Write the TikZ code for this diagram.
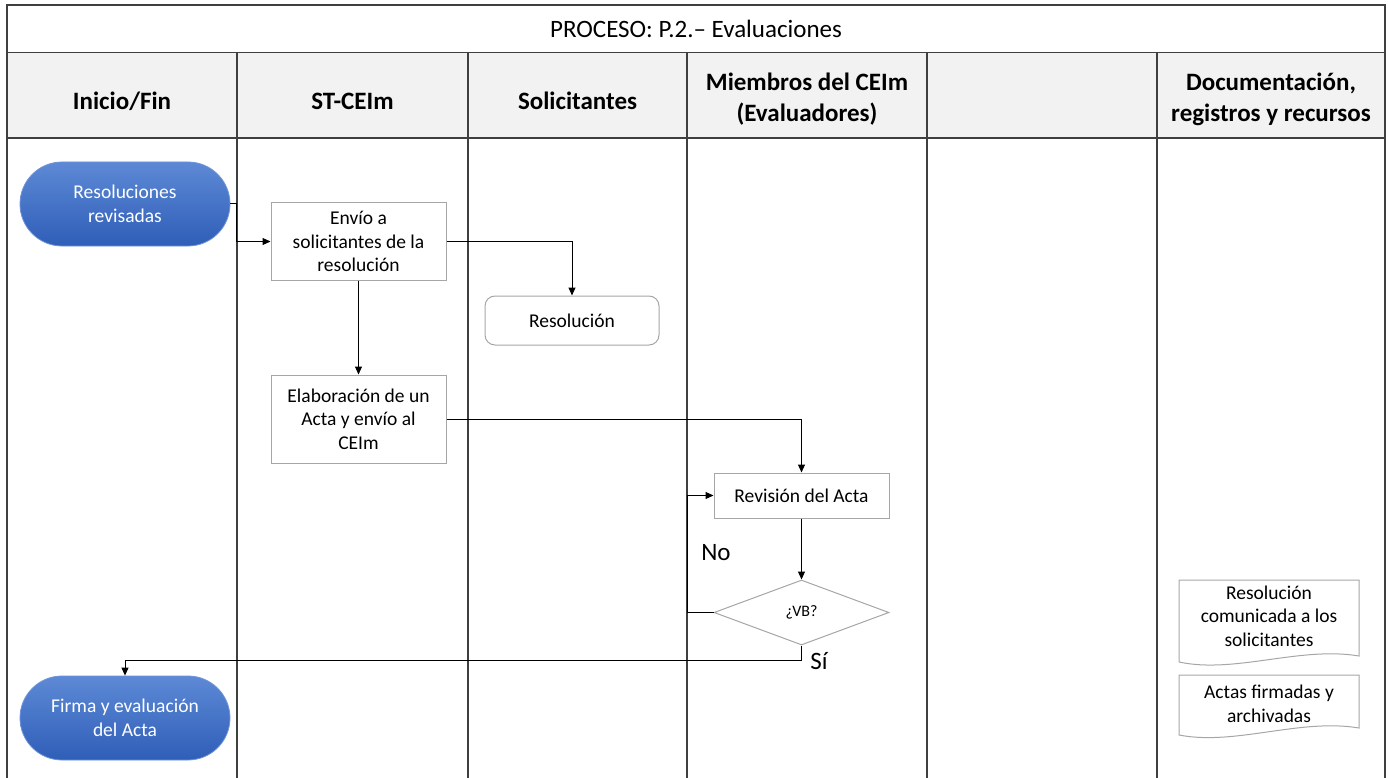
\documentclass[tikz,border=0pt]{standalone}
\usepackage{fontspec}
\setmainfont{Carlito}
\usetikzlibrary{shapes.geometric,arrows.meta}

\definecolor{lanefill}{HTML}{F2F2F2}
\definecolor{frameline}{HTML}{3F3F3F}
\definecolor{boxline}{HTML}{A6A6A6}
\definecolor{termtop}{HTML}{5D89D5}
\definecolor{termbot}{HTML}{2F5EB8}
\definecolor{termedge}{HTML}{6F94D8}

\tikzset{
  laneline/.style={draw=frameline, line width=1.1pt},
  titletxt/.style={font=\fontsize{25}{30}\selectfont, align=center},
  headtxt/.style={font=\fontsize{25}{31}\selectfont\bfseries, align=center},
  bodyfont/.style={font=\fontsize{19.5}{23.5}\selectfont},
  procbox/.style={bodyfont, draw=boxline, line width=1pt, fill=white,
    minimum width=175pt, align=center, inner sep=2pt},
  outbox/.style={procbox, rounded corners=10pt},
  terminal/.style={bodyfont, rounded corners=42pt, top color=termtop,
    bottom color=termbot, draw=termedge, line width=0.8pt,
    minimum width=210pt, minimum height=84pt, text=white, align=center},
  decision/.style={diamond, draw=boxline, line width=1pt, fill=white,
    minimum width=175pt, minimum height=65pt, inner sep=0pt,
    font=\fontsize{16}{19}\selectfont},
  doctxt/.style={bodyfont, align=center, inner sep=0pt},
  docline/.style={draw=boxline, line width=1pt, fill=white},
  flow/.style={line width=1pt, -{Triangle[length=8pt,width=7pt]}},
  branchtxt/.style={font=\fontsize{25}{30}\selectfont},
}

\begin{document}
\begin{tikzpicture}[x=1pt, y=-1pt]
  \useasboundingbox (0,0) rectangle (1389,778);

  % swimlane frame
  \draw[laneline] (7,5) rectangle (1385,53);
  \fill[lanefill] (7,53) rectangle (1385,138);
  \draw[laneline] (7,138) -- (1385,138);
  \foreach \lx in {7,237,468,687,927,1157,1385}
    \draw[laneline] (\lx,53) -- (\lx,778);

  % title and lane headings
  \node[titletxt] (title) at (696,29) {PROCESO: P.2.– Evaluaciones};
  \node[headtxt] (h1) at (122,101) {Inicio/Fin};
  \node[headtxt] (h2) at (352.5,101) {ST-CEIm};
  \node[headtxt] (h3) at (577.5,101) {Solicitantes};
  \node[headtxt] (h4) at (807,99) {Miembros del CEIm\\(Evaluadores)};
  \node[headtxt] (h6) at (1271,99) {Documentación,\\registros y recursos};

  % flow nodes
  \node[terminal] (start) at (125,204) {Resoluciones\\revisadas};
  \node[procbox, minimum height=77pt] (envio) at (358.5,241.5)
    {Envío a\\solicitantes de la\\resolución};
  \node[outbox, minimum height=49pt, minimum width=174pt] (resol) at (572,320.5) {Resolución};
  \node[procbox, minimum height=88pt] (elab) at (358.5,419)
    {Elaboración de un\\Acta y envío al\\CEIm};
  \node[procbox, minimum height=45pt] (rev) at (801.5,495.5) {Revisión del Acta};
  \node[decision] (vb) at (801.5,612.5) {¿VB?};
  \node[terminal] (firma) at (125,718) {Firma y evaluación\\del Acta};

  % records: document shapes with wavy lower edge
  \draw[docline] (1179,580) -- (1359,580) -- (1359,656)
    .. controls (1300,646) and (1235,674) .. (1179,662) -- cycle;
  \node[doctxt] (doc1) at (1269,616) {Resolución\\comunicada a los\\solicitantes};
  \draw[docline] (1179,675) -- (1359,675) -- (1359,728)
    .. controls (1300,718) and (1235,746) .. (1179,735) -- cycle;
  \node[doctxt] (doc2) at (1269,704) {Actas firmadas y\\archivadas};

  % connectors
  \draw[flow] (start.east) -- ++(6,0) |- (envio.west);
  \draw[flow] (envio.east) -| (resol.north);
  \draw[flow] (envio.south) -- (elab.north);
  \draw[flow] (elab.east) -| (rev.north);
  \draw[flow] (rev.south) -- (vb.north);
  \draw[flow] (vb.west) -- ++(-26,0) coordinate (noturn) |- (rev.west);
  \draw[flow] (vb.south) -- ++(0,15) coordinate (siturn) -| (firma.north);

  % branch labels
  \node[branchtxt] (nolbl) at (716,553) {No};
  \node[branchtxt] (silbl) at (819,661) {Sí};
\end{tikzpicture}
\end{document}
